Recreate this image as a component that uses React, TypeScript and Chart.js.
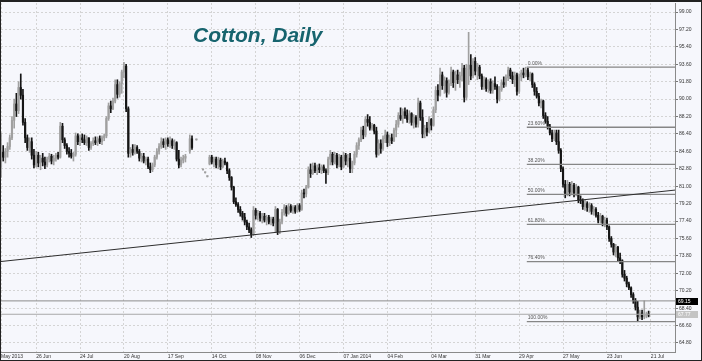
import React, { useEffect, useRef } from "react";
import { Chart, registerables } from "chart.js";

Chart.register(...registerables);

// ---- data (daily bars, index 0 = end of May 2013) ----
const OPEN = [
  83.0, 84.5, 84.0, 84.6, 85.1, 86.0, 87.8, 89.5, 88.8, 91.2, 90.4, 87.6, 86.0, 85.0, 85.6, 84.2, 83.2, 84.2, 83.4, 83.9,
  83.5, 83.2, 83.8, 84.1, 83.6, 83.9, 84.2, 84.0, 87.2, 85.8, 85.2, 84.6, 84.4, 84.1, 84.3, 86.2, 85.6, 86.0, 85.8, 85.5,
  86.0, 85.0, 85.4, 85.7, 85.5, 85.9, 85.6, 86.0, 86.2, 88.0, 89.3, 89.0, 89.8, 91.5, 90.5, 91.6, 92.8, 93.4, 89.0, 84.4,
  84.8, 84.5, 85.0, 84.6, 83.9, 84.1, 83.6, 83.8, 83.0, 82.7, 83.2, 84.0, 84.6, 85.1, 85.6, 85.3, 85.8, 85.4, 85.7, 85.2,
  85.5, 83.8, 83.2, 83.7, 83.9, null, 84.6, 85.9, null, 85.8, null, null, 82.7, 82.4, 82.0, 83.3, 84.0, 83.5, 83.8, 83.2,
  83.7, 83.0, 83.6, 83.4, 82.6, 81.9, 80.9, 79.4, 79.1, 78.6, 78.2, 77.8, 77.3, 76.8, 76.5, 76.0, 78.5, 78.0, 78.2, 77.7,
  77.9, 77.5, 77.8, 77.3, 77.6, 77.2, 78.6, 76.3, 77.3, 78.3, 78.8, 78.2, 78.9, 78.5, 78.8, 78.4, 79.0, 78.6, 80.3, 80.2,
  80.9, 82.7, 82.3, 83.1, 82.6, 82.9, 82.7, 83.0, 82.6, 82.4, 83.8, 84.3, 83.5, 84.2, 83.2, 84.0, 83.0, 84.2, 83.6, 83.9,
  82.8, 83.4, 84.3, 85.2, 85.8, 86.8, 86.3, 87.9, 87.6, 87.0, 87.3, 86.7, 84.3, 85.4, 84.9, 85.9, 86.3, 85.5, 86.0, 85.7,
  86.8, 87.4, 88.3, 88.0, 88.7, 88.3, 87.9, 88.5, 87.6, 88.1, 87.4, 89.6, 88.1, 86.4, 87.0, 86.6, 87.9, 87.3, 88.9, 90.9,
  90.4, 92.5, 91.4, 91.9, 90.7, 91.6, 92.8, 91.7, 92.5, 92.0, 92.4, 93.2, 90.2, 93.1, 93.5, 92.4, 93.9, 92.9, 93.3, 92.4,
  91.3, 92.0, 91.1, 91.8, 90.9, 91.6, 91.3, 90.0, 91.0, 91.7, 91.5, 92.2, 93.0, 92.4, 92.0, 92.5, 90.8, 92.3, 92.7, 92.5,
  93.0, 92.3, 92.6, 91.5, 90.8, 90.3, 89.6, 89.8, 88.3, 87.7, 87.2, 86.5, 85.9, 86.5, 85.6, 84.7, 82.8, 81.2, 80.2, 81.2,
  80.4, 81.1, 80.3, 80.9, 79.6, 79.5, 78.9, 79.2, 78.8, 79.0, 78.4, 78.6, 78.0, 77.5, 77.9, 77.2, 77.5, 76.8, 75.6, 75.0,
  74.2, 74.7, 73.6, 73.3, 71.9, 71.5, 70.9, 70.5, 69.8, 69.2, 68.5, 67.5, 67.9, 67.5, 67.6, 67.8,
];
const HIGH = [
  86.5, 85.2, 84.9, 85.5, 86.3, 88.2, 90.0, 90.6, 91.8, 92.6, 91.0, 88.0, 86.3, 86.0, 86.0, 84.8, 84.6, 84.5, 84.2, 84.4,
  84.0, 84.0, 84.4, 84.3, 84.2, 84.4, 84.5, 87.6, 87.5, 86.0, 85.4, 85.0, 84.8, 84.5, 86.5, 86.4, 86.3, 86.4, 86.3, 86.2,
  86.0, 85.6, 86.0, 86.1, 86.1, 86.2, 86.2, 86.4, 88.2, 89.6, 89.8, 90.1, 92.0, 92.0, 91.8, 93.0, 93.8, 93.6, 89.2, 85.0,
  85.3, 85.3, 85.2, 84.8, 84.4, 84.4, 84.0, 84.0, 83.4, 83.4, 84.2, 84.9, 85.4, 86.0, 85.9, 86.0, 86.0, 86.1, 85.9, 85.8,
  85.6, 84.7, 84.0, 84.2, 84.3, null, 86.3, 86.2, null, 85.85, null, null, 82.75, 82.45, 82.05, 84.2, 84.2, 84.0, 84.0, 84.0,
  83.9, 83.8, 83.9, 83.5, 82.8, 82.0, 81.0, 79.8, 79.3, 78.9, 78.4, 78.2, 77.5, 77.2, 76.7, 78.9, 78.7, 78.5, 78.4, 78.2,
  78.2, 78.0, 78.0, 77.8, 77.8, 78.9, 78.7, 77.6, 78.6, 79.1, 79.0, 79.2, 79.1, 79.0, 79.0, 79.2, 79.2, 80.6, 80.7, 81.1,
  83.0, 83.3, 83.4, 83.4, 83.2, 83.3, 83.2, 83.2, 82.8, 84.0, 84.7, 84.5, 84.5, 84.4, 84.3, 84.2, 84.5, 84.4, 84.3, 84.4,
  83.6, 84.6, 85.5, 86.0, 87.1, 87.2, 88.2, 88.4, 88.2, 87.5, 87.4, 87.1, 85.8, 85.8, 86.2, 86.8, 86.6, 86.3, 86.4, 87.0,
  87.8, 88.6, 89.1, 89.0, 89.1, 88.9, 88.8, 88.6, 88.4, 88.3, 90.1, 89.8, 88.9, 87.3, 87.6, 88.2, 88.0, 89.2, 91.3, 91.5,
  93.2, 92.8, 92.3, 92.2, 92.0, 93.3, 93.0, 92.9, 93.0, 92.8, 93.7, 93.5, 93.6, 96.9, 94.6, 94.2, 94.3, 93.7, 93.5, 92.6,
  92.3, 92.2, 92.0, 92.1, 91.9, 92.3, 91.5, 91.3, 92.0, 92.3, 92.5, 93.3, 93.2, 92.8, 92.8, 92.7, 92.6, 93.0, 93.2, 93.3,
  93.2, 92.8, 92.7, 91.7, 91.2, 90.6, 90.0, 89.9, 88.6, 88.2, 87.4, 86.8, 86.8, 86.8, 86.8, 84.9, 83.0, 81.6, 81.6, 81.4,
  81.5, 81.3, 81.2, 81.0, 80.0, 79.7, 79.6, 79.4, 79.3, 79.2, 78.9, 78.8, 78.3, 78.2, 78.0, 77.8, 77.7, 76.9, 75.8, 75.1,
  75.0, 74.8, 74.1, 73.4, 72.3, 71.7, 71.1, 70.6, 70.0, 69.4, 69.1, 68.2, 68.2, 69.15, 68.0, 68.1,
];
const LOW = [
  81.9, 83.6, 83.4, 84.0, 84.8, 85.8, 87.0, 88.2, 88.5, 90.0, 87.3, 85.5, 84.7, 84.5, 83.8, 82.9, 83.0, 83.0, 82.7, 83.1,
  82.8, 83.0, 83.5, 83.3, 83.2, 83.6, 83.8, 83.9, 85.5, 84.9, 84.3, 84.0, 83.9, 83.6, 84.1, 85.3, 85.2, 85.5, 85.3, 85.2,
  84.7, 84.8, 85.2, 85.3, 85.2, 85.4, 85.3, 85.7, 86.0, 87.8, 88.6, 88.9, 89.6, 90.1, 90.2, 90.6, 92.2, 88.7, 84.0, 84.0,
  84.2, 84.3, 84.4, 83.6, 83.5, 83.4, 83.2, 82.8, 82.4, 82.5, 83.0, 83.8, 84.3, 84.9, 85.0, 84.8, 85.1, 85.0, 84.9, 84.8,
  83.6, 82.9, 83.0, 83.4, 83.5, null, 84.4, 84.8, null, 85.75, null, null, 82.65, 82.35, 81.95, 83.2, 83.3, 83.0, 82.9, 82.8,
  82.7, 82.9, 83.2, 82.3, 81.6, 80.6, 79.2, 78.9, 78.3, 77.9, 77.5, 77.0, 76.5, 76.2, 75.7, 75.9, 77.6, 77.5, 77.4, 77.2,
  77.3, 77.0, 77.1, 77.0, 76.9, 76.2, 76.0, 76.1, 77.1, 78.0, 77.9, 78.1, 78.3, 78.2, 78.2, 78.3, 78.4, 78.5, 79.8, 79.9,
  80.8, 81.9, 82.2, 82.4, 82.2, 82.4, 82.3, 82.4, 81.3, 82.2, 83.2, 83.2, 83.3, 82.9, 83.0, 82.7, 82.9, 83.2, 83.0, 82.4,
  82.4, 83.2, 84.0, 84.8, 85.6, 85.9, 86.1, 87.2, 86.8, 86.8, 86.4, 84.0, 84.2, 84.4, 84.7, 85.5, 85.1, 85.2, 85.4, 85.6,
  86.1, 87.1, 87.8, 87.5, 88.0, 87.6, 87.5, 87.3, 87.0, 87.1, 87.1, 87.8, 86.0, 86.0, 86.2, 86.5, 86.8, 87.2, 88.6, 89.8,
  90.3, 91.0, 90.6, 90.2, 90.5, 91.4, 91.2, 90.9, 91.6, 91.2, 91.9, 89.7, 89.9, 91.5, 92.0, 92.2, 92.5, 92.0, 92.1, 91.0,
  91.0, 90.8, 90.7, 90.6, 90.6, 91.0, 89.6, 89.8, 90.8, 91.2, 91.3, 91.9, 92.1, 91.6, 91.3, 90.4, 90.6, 91.9, 92.2, 92.3,
  92.0, 91.9, 91.2, 90.4, 90.1, 89.3, 89.1, 88.0, 87.5, 86.9, 86.3, 85.6, 85.7, 85.3, 84.4, 82.5, 80.9, 79.8, 80.0, 80.0,
  80.1, 79.9, 80.0, 79.3, 79.2, 78.6, 78.5, 78.4, 78.3, 78.1, 78.0, 77.8, 77.2, 77.2, 76.9, 76.8, 76.5, 75.3, 74.7, 73.9,
  73.7, 73.3, 73.0, 71.6, 71.2, 70.6, 70.3, 69.5, 68.9, 68.2, 67.0, 67.3, 67.2, 67.3, 67.4, 67.5,
];
const CLOSE = [
  84.5, 84.0, 84.6, 85.1, 86.0, 87.8, 89.5, 88.8, 91.2, 90.4, 87.6, 86.0, 85.0, 85.6, 84.2, 83.2, 84.2, 83.4, 83.9, 83.5,
  83.2, 83.8, 84.1, 83.6, 83.9, 84.2, 84.0, 87.2, 85.8, 85.2, 84.6, 84.4, 84.1, 84.3, 86.2, 85.6, 86.0, 85.8, 85.5, 86.0,
  85.0, 85.4, 85.7, 85.5, 85.9, 85.6, 86.0, 86.2, 88.0, 89.3, 89.0, 89.8, 91.5, 90.5, 91.6, 92.8, 93.4, 89.0, 84.4, 84.8,
  84.5, 85.0, 84.6, 83.9, 84.1, 83.6, 83.8, 83.0, 82.7, 83.2, 84.0, 84.6, 85.1, 85.6, 85.3, 85.8, 85.4, 85.7, 85.2, 85.5,
  83.8, 83.2, 83.7, 83.9, 84.1, null, 85.9, 85.0, null, 85.8, null, null, 82.7, 82.4, 82.0, 84.0, 83.5, 83.8, 83.2, 83.7,
  83.0, 83.6, 83.4, 82.6, 81.9, 80.9, 79.4, 79.1, 78.6, 78.2, 77.8, 77.3, 76.8, 76.5, 76.0, 78.5, 78.0, 78.2, 77.7, 77.9,
  77.5, 77.8, 77.3, 77.6, 77.2, 78.6, 76.3, 77.3, 78.3, 78.8, 78.2, 78.9, 78.5, 78.8, 78.4, 79.0, 78.6, 80.3, 80.2, 80.9,
  82.7, 82.3, 83.1, 82.6, 82.9, 82.7, 83.0, 82.6, 82.4, 83.8, 84.3, 83.5, 84.2, 83.2, 84.0, 83.0, 84.2, 83.6, 83.9, 82.8,
  83.4, 84.3, 85.2, 85.8, 86.8, 86.3, 87.9, 87.6, 87.0, 87.3, 86.7, 84.3, 85.4, 84.9, 85.9, 86.3, 85.5, 86.0, 85.7, 86.8,
  87.4, 88.3, 88.0, 88.7, 88.3, 87.9, 88.5, 87.6, 88.1, 87.4, 89.6, 88.1, 86.4, 87.0, 86.6, 87.9, 87.3, 88.9, 90.9, 90.4,
  92.5, 91.4, 91.9, 90.7, 91.6, 92.8, 91.7, 92.5, 92.0, 92.4, 93.2, 90.2, 93.1, 93.5, 92.4, 93.9, 92.9, 93.3, 92.4, 91.3,
  92.0, 91.1, 91.8, 90.9, 91.6, 91.3, 90.0, 91.0, 91.7, 91.5, 92.2, 93.0, 92.4, 92.0, 92.5, 90.8, 92.3, 92.7, 92.5, 93.0,
  92.3, 92.6, 91.5, 90.8, 90.3, 89.6, 89.8, 88.3, 87.7, 87.2, 86.5, 85.9, 86.5, 85.6, 84.7, 82.8, 81.2, 80.2, 81.2, 80.4,
  81.1, 80.3, 80.9, 79.6, 79.5, 78.9, 79.2, 78.8, 79.0, 78.4, 78.6, 78.0, 77.5, 77.9, 77.2, 77.5, 76.8, 75.6, 75.0, 74.2,
  74.7, 73.6, 73.3, 71.9, 71.5, 70.9, 70.5, 69.8, 69.2, 68.5, 67.5, 67.9, 67.5, 67.6, 67.8, 67.7,
];

// ---- axes ----
const X_TICK_INDEX = [0, 16, 36, 56, 76, 96, 116, 136, 156, 176, 196, 216, 236, 256, 276, 296];
const X_TICK_LABELS = [
  "May 2013", "26 Jun", "24 Jul", "20 Aug", "17 Sep", "14 Oct", "08 Nov", "06 Dec",
  "07 Jan 2014", "04 Feb", "04 Mar", "31 Mar", "29 Apr", "27 May", "23 Jun", "21 Jul",
];
const Y_TICKS = [
  64.8, 66.6, 68.4, 70.2, 72.0, 73.8, 75.6, 77.4, 79.2, 81.0,
  82.8, 84.6, 86.4, 88.2, 90.0, 91.8, 93.6, 95.4, 97.2, 99.0,
];
const X_MIN = 0;
const X_MAX = 307;
const Y_MIN = 63.87;
const Y_MAX = 99.93;

// ---- drawn objects ----
const FIB_LEVELS = [0, 23.6, 38.2, 50, 61.8, 76.4, 100];
const FIB_HIGH = 93.3;
const FIB_LOW = 67.0;
const FIB_START = 239.5;
const TREND_X = [0, 307];
const TREND_Y = [73.22, 80.6];
const PRICE_LINES = [69.15, 67.77];
const PRICE_LABELS = ["69.15", "67.77"];
const TITLE = "Cotton, Daily";

const BG = "#f6f7fc";
const UP_COLOR = "#a0a0a0";
const DOWN_COLOR = "#151515";

export default function App() {
  const ref = useRef<HTMLCanvasElement>(null);

  useEffect(() => {
    document.body.style.margin = "0";
    const canvas = ref.current;
    if (!canvas) return;

    const rows = OPEN.map((_, i) => i).filter((i) => OPEN[i] != null);
    const wicks = rows.map((i) => ({ x: i, y: [LOW[i], HIGH[i]], up: (CLOSE[i] as number) >= (OPEN[i] as number) }));
    const bodies = rows.map((i) => ({ x: i, y: [OPEN[i], CLOSE[i]], up: (CLOSE[i] as number) >= (OPEN[i] as number) }));
    const fibPrice = (l: number) => FIB_HIGH - ((FIB_HIGH - FIB_LOW) * l) / 100;

    const lineDs = (data: any[], color: string, width: number) => ({
      type: "line",
      data,
      borderColor: color,
      borderWidth: width,
      pointRadius: 0,
      fill: false,
      tension: 0,
      order: 0,
    });

    const datasets: any[] = [
      {
        type: "bar",
        data: wicks,
        barThickness: 1,
        grouped: false,
        borderWidth: 0,
        backgroundColor: (c: any) => (c.raw && c.raw.up ? UP_COLOR : DOWN_COLOR),
        order: 2,
      },
      {
        type: "bar",
        data: bodies,
        barThickness: 1.5,
        grouped: false,
        borderWidth: 0,
        minBarLength: 1,
        backgroundColor: (c: any) => (c.raw && c.raw.up ? UP_COLOR : DOWN_COLOR),
        order: 1,
      },
      lineDs(
        TREND_X.map((x, k) => ({ x, y: TREND_Y[k] })),
        "#2e2e2e",
        1
      ),
      ...FIB_LEVELS.map((l) =>
        lineDs(
          [
            { x: FIB_START, y: fibPrice(l) },
            { x: X_MAX, y: fibPrice(l) },
          ],
          "#868686",
          1.3
        )
      ),
      ...PRICE_LINES.map((p, k) =>
        lineDs(
          [
            { x: X_MIN, y: p },
            { x: X_MAX, y: p },
          ],
          k === 0 ? "#8c8c8c" : "#a8a8a8",
          1
        )
      ),
    ];

    const overlay = {
      id: "overlay",
      beforeDraw(chart: any) {
        const { ctx, width, height } = chart;
        ctx.save();
        ctx.fillStyle = BG;
        ctx.fillRect(0, 0, width, height);
        ctx.restore();
      },
      afterDraw(chart: any) {
        const { ctx, scales, chartArea, width, height } = chart;
        const xs = scales.x;
        const ys = scales.y;
        ctx.save();
        // fib labels
        ctx.font = '5px "Liberation Sans", Arial, sans-serif';
        ctx.fillStyle = "#555555";
        ctx.textAlign = "left";
        ctx.textBaseline = "bottom";
        FIB_LEVELS.forEach((l) => {
          ctx.fillText(l.toFixed(2) + "%", xs.getPixelForValue(FIB_START) + 1, ys.getPixelForValue(fibPrice(l)) - 1.5);
        });
        // price tags
        PRICE_LINES.forEach((p, k) => {
          const py = ys.getPixelForValue(p);
          ctx.fillStyle = k === 0 ? "#000000" : "#c4c4c4";
          ctx.fillRect(chartArea.right + 1, Math.round(py) - 3, 22, 7);
          ctx.fillStyle = "#ffffff";
          ctx.textBaseline = "middle";
          ctx.fillText(PRICE_LABELS[k], chartArea.right + 3, Math.round(py) + 0.5);
        });
        // title
        ctx.font = 'italic bold 21px "Liberation Sans", Arial, sans-serif';
        ctx.fillStyle = "#17646e";
        ctx.textBaseline = "alphabetic";
        ctx.fillText(TITLE, 193, 42);
        // frame
        ctx.fillStyle = "#222222";
        ctx.fillRect(0, 0, width, 2);
        ctx.fillRect(0, 0, 1, height);
        ctx.fillRect(width - 1, 0, 1, height);
        ctx.fillRect(0, height - 1, width, 1);
        ctx.restore();
      },
    };

    const chart = new Chart(canvas, {
      type: "bar",
      data: { datasets },
      plugins: [overlay as any],
      options: {
        responsive: false,
        animation: false,
        devicePixelRatio: 1,
        events: [],
        layout: { padding: { left: 1, top: 3, right: 0, bottom: 0 } },
        plugins: { legend: { display: false }, tooltip: { enabled: false }, title: { display: false } },
        scales: {
          x: {
            type: "linear",
            position: "bottom",
            min: X_MIN,
            max: X_MAX,
            offset: false,
            bounds: "data",
            afterBuildTicks: (s: any) => {
              s.ticks = X_TICK_INDEX.map((v) => ({ value: v }));
            },
            afterFit: (s: any) => {
              s.height = 9;
              s.paddingLeft = 0;
              s.paddingRight = 0;
            },
            grid: { color: "#d4d4d4", lineWidth: 1, drawTicks: false, offset: false },
            border: { display: true, color: "#8a8a8a", width: 1, dash: [2, 2] },
            ticks: {
              autoSkip: false,
              maxRotation: 0,
              minRotation: 0,
              align: "start",
              padding: 2,
              color: "#333333",
              font: { size: 5, family: '"Liberation Sans", Arial, sans-serif' },
              callback: (_v: any, i: number) => X_TICK_LABELS[i],
            },
          },
          y: {
            type: "linear",
            position: "right",
            min: Y_MIN,
            max: Y_MAX,
            beginAtZero: false,
            bounds: "data",
            afterBuildTicks: (s: any) => {
              s.ticks = Y_TICKS.map((v) => ({ value: v }));
            },
            afterFit: (s: any) => {
              s.width = 27;
              s.paddingTop = 0;
              s.paddingBottom = 0;
            },
            grid: {
              color: "#d4d4d4",
              lineWidth: 1,
              drawTicks: true,
              tickLength: 3,
              tickColor: "#777777",
              tickBorderDash: [],
            },
            border: { display: true, color: "#8a8a8a", width: 1, dash: [2, 2] },
            ticks: {
              autoSkip: false,
              padding: 1,
              color: "#333333",
              font: { size: 5, family: '"Liberation Sans", Arial, sans-serif' },
              callback: (v: any) => Number(v).toFixed(2),
            },
          },
        },
      } as any,
    });

    return () => chart.destroy();
  }, []);

  return (
    <div style={{ position: "fixed", left: 0, top: 0, width: 702, height: 361 }}>
      <canvas ref={ref} width={702} height={361} style={{ display: "block", width: 702, height: 361 }} />
    </div>
  );
}
